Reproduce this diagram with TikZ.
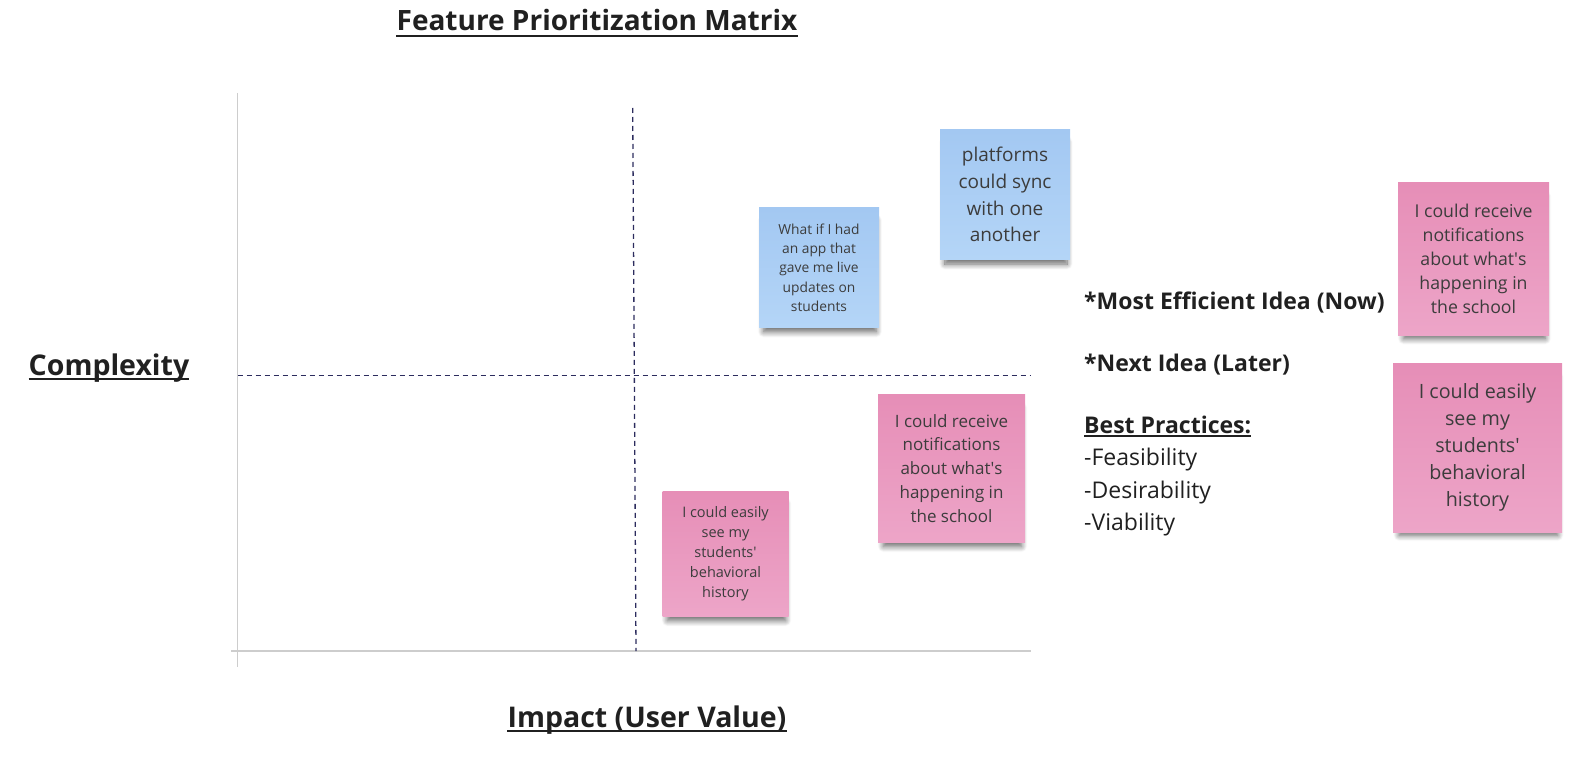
\documentclass[tikz,border=0pt]{standalone}
\usepackage{fontspec}
\setmainfont{Open Sans}
\usetikzlibrary{positioning,shadows.blur}

\definecolor{ink}{HTML}{202020}
\definecolor{notetext}{HTML}{3C3C3C}
\definecolor{axisgray}{HTML}{CDCDCD}
\definecolor{dashnavy}{HTML}{2C2C5E}
\definecolor{bluetop}{HTML}{A3C8F2}
\definecolor{bluebottom}{HTML}{B4D5F7}
\definecolor{pinktop}{HTML}{E68EB7}
\definecolor{pinkbottom}{HTML}{EDA5C8}

\tikzset{
	heading/.style={inner sep=0pt, text=ink, anchor=base, font=\bfseries\fontsize{28.5}{32}\selectfont},
	listtext/.style={inner sep=0pt, text=ink, anchor=base west, font=\fontsize{23}{32}\selectfont},
	axisline/.style={axisgray, line width=1.3pt},
	divider/.style={dashnavy, line width=1.3pt, dash pattern=on 5pt off 4pt},
	underl/.style={ink, line width=#1},
	sticky/.style={inner sep=0pt, align=center, text=notetext,
		blur shadow={shadow xshift=1pt, shadow yshift=-9pt, shadow scale=0.94, shadow opacity=60, shadow blur steps=10, shadow blur radius=6pt}},
	bluenote/.style={sticky, top color=bluetop, bottom color=bluebottom},
	pinknote/.style={sticky, top color=pinktop, bottom color=pinkbottom}
}

\begin{document}
\begin{tikzpicture}[x=1pt, y=-1pt]
	\useasboundingbox (0,0) rectangle (1591,762);

	% headings
	\node[heading, font=\bfseries\fontsize{28}{32}\selectfont] (title) at (597,31) {Feature Prioritization Matrix};
	\node[heading] (complexity) at (109,375) {Complexity};
	\node[heading] (impact) at (647,727) {Impact (User Value)};
	\draw[underl=2pt] ([yshift=-5pt]title.base west) -- ([yshift=-5pt]title.base east);
	\draw[underl=2.2pt] ([yshift=-4pt]complexity.base west) -- ([yshift=-4pt]complexity.base east);
	\draw[underl=2.2pt] ([yshift=-4pt]impact.base west) -- ([yshift=-4pt]impact.base east);

	% axes and quadrant lines
	\coordinate (ytop) at (237.5,93);
	\coordinate (ybot) at (237.5,667);
	\coordinate (xleft) at (231,651);
	\coordinate (xright) at (1031,651);
	\coordinate (midleft) at (237.5,375.7);
	\coordinate (midright) at (1031,375.7);
	\coordinate (midtop) at (632.7,108);
	\coordinate (midbot) at (636,651);
	\draw[axisline] (ytop) -- (ybot);
	\draw[axisline] (xleft) -- (xright);
	\draw[divider] (midleft) -- (midright);
	\draw[divider] (midtop) -- (midbot);

	% sticky notes in the matrix
	\node[bluenote, minimum width=120pt, minimum height=119pt, font=\fontsize{13.8}{19.3}\selectfont] (liveapp) at (819,267.5)
		{What if I had\\an app that\\gave me live\\updates on\\students};
	\node[bluenote, minimum width=130pt, minimum height=130pt, font=\fontsize{19}{26.7}\selectfont] (sync) at (1005,194.5)
		{platforms\\could sync\\with one\\another};
	\node[pinknote, minimum width=147pt, minimum height=148pt, font=\fontsize{17}{23.9}\selectfont] (notify) at (951.5,468.5)
		{I could receive\\notifications\\about what\textquotesingle s\\happening in\\the school};
	\node[pinknote, minimum width=126pt, minimum height=125pt, font=\fontsize{14.5}{20}\selectfont] (history) at (725.5,553.5)
		{I could easily\\see my\\students\textquotesingle\\behavioral\\history};

	% legend
	\node[listtext, font=\bfseries\fontsize{23}{32}\selectfont] (nowidea) at (1084,309.3) {*Most Efficient Idea (Now)};
	\node[listtext, font=\bfseries\fontsize{23}{32}\selectfont] (nextidea) at (1084,371.7) {*Next Idea (Later)};
	\node[listtext, font=\bfseries\fontsize{23}{32}\selectfont] (practices) at (1084,433) {Best Practices:};
	\draw[underl=1.6pt] ([yshift=-3pt]practices.base west) -- ([yshift=-3pt]practices.base east);
	\node[listtext] (feasible) at (1084,465) {-Feasibility};
	\node[listtext] (desirable) at (1084,498) {-Desirability};
	\node[listtext] (viable) at (1084,530) {-Viability};

	% picked ideas
	\node[pinknote, minimum width=151pt, minimum height=152pt, font=\fontsize{17.7}{24}\selectfont] (nownote) at (1473.5,259)
		{I could receive\\notifications\\about what\textquotesingle s\\happening in\\the school};
	\node[pinknote, minimum width=169pt, minimum height=169pt, font=\fontsize{19.7}{27}\selectfont] (nextnote) at (1477.5,447.5)
		{I could easily\\see my\\students\textquotesingle\\behavioral\\history};
\end{tikzpicture}
\end{document}
